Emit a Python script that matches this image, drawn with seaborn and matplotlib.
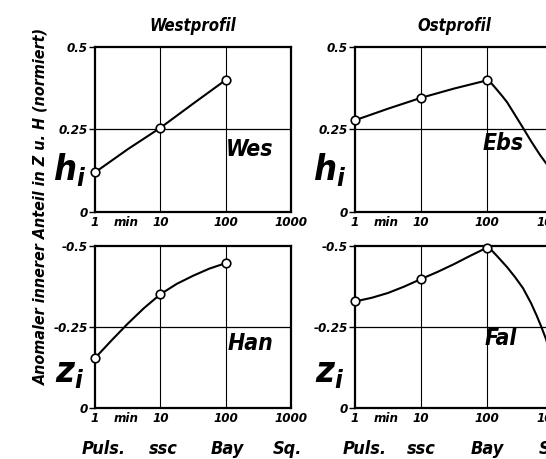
import matplotlib
matplotlib.use("Agg")
import matplotlib.pyplot as plt
import matplotlib.transforms as mtransforms
import pandas as pd
import seaborn as sns

sns.set_theme(style="white")
FONT = ["DejaVu Sans"]
plt.rcParams["font.family"] = FONT
plt.rcParams["font.stretch"] = "condensed"
plt.rcParams["font.style"] = "italic"
plt.rcParams["font.weight"] = "bold"
plt.rcParams["text.color"] = "black"
plt.rcParams["xtick.color"] = "black"
plt.rcParams["ytick.color"] = "black"
plt.rcParams["mathtext.fontset"] = "custom"
plt.rcParams["mathtext.it"] = "DejaVu Sans:italic:bold"
plt.rcParams["mathtext.rm"] = "DejaVu Sans:italic:bold"

# Periods (minutes) of the measured variation types
periods = [1, 10, 100]
period_ticks = [1, 10, 100, 1000]
period_labels = ["1", "10", "100", "1000"]
variation_types = ["Puls.", "ssc", "Bay", "Sq."]

# Normalised internal anomalous part at each station
wes_h = [0.12, 0.255, 0.40]
ebs_h = [0.278, 0.346, 0.399]
han_z = [-0.154, -0.351, -0.447]
fal_z = [-0.329, -0.398, -0.495]

# Traced smooth curves through the stations' points
wes_h_t = [1, 3.16, 10, 31.6, 100]
wes_h_c = [0.12, 0.19, 0.255, 0.328, 0.40]
ebs_h_t = [1, 3.16, 10, 31.6, 100, 119, 142, 169, 201, 266, 351, 464,
           635, 783, 966]
ebs_h_c = [0.278, 0.313, 0.346, 0.374, 0.399, 0.388, 0.370, 0.352, 0.333,
           0.294, 0.255, 0.215, 0.173, 0.148, 0.125]
han_z_t = [1, 1.78, 3.16, 5.6, 10, 17.8, 31.6, 56, 100]
han_z_c = [-0.154, -0.208, -0.26, -0.308, -0.351, -0.383, -0.408, -0.43,
           -0.447]
fal_z_t = [1, 1.78, 3.16, 5.6, 10, 17.8, 31.6, 56, 100, 111, 142, 201,
           266, 351, 464, 569, 658, 783, 966]
fal_z_c = [-0.329, -0.34, -0.355, -0.375, -0.398, -0.42, -0.444, -0.47,
           -0.495, -0.492, -0.469, -0.435, -0.404, -0.37, -0.324, -0.284,
           -0.253, -0.213, -0.15]

panels = [
    # (station, component, points, curve_t, curve, row, col)
    ("Wes", "h", wes_h, wes_h_t, wes_h_c, 0, 0),
    ("Ebs", "h", ebs_h, ebs_h_t, ebs_h_c, 0, 1),
    ("Han", "z", han_z, han_z_t, han_z_c, 1, 0),
    ("Fal", "z", fal_z, fal_z_t, fal_z_c, 1, 1),
]

W, H = 546, 459
fig = plt.figure(figsize=(W / 100, H / 100), dpi=100)

col_x = [(95, 196), (355, 198)]
row_y = [(47, 165), (246, 162)]

# horizontal shift (px) of the variation-type captions relative to their tick
type_shift = [[9, 3, 2, -4], [10, 0, 0, 0]]


def add_axes(r, c):
    x0, w = col_x[c]
    y0, h = row_y[r]
    return fig.add_axes([x0 / W, 1 - (y0 + h) / H, w / W, h / H])


label_pos = {
    "Wes": (226, 0.19),
    "Ebs": (483, 0.209),
    "Han": (228, -0.20),
    "Fal": (485, -0.213),
}

for name, comp, pts, ct, cv, r, c in panels:
    ax = add_axes(r, c)
    ax.set_xscale("log")
    ax.set_xlim(1, 1000)
    if comp == "h":
        ax.set_ylim(0, 0.5)
        yt = [0, 0.25, 0.5]
        ytl = ["0", "0.25", "0.5"]
        grid_y = 0.25
    else:
        ax.set_ylim(0, -0.5)
        yt = [0, -0.25, -0.5]
        ytl = ["0", "-0.25", "-0.5"]
        grid_y = -0.25

    # reference grid
    for gx in (10, 100):
        ax.axvline(gx, color="black", lw=0.8, zorder=1)
    ax.axhline(grid_y, color="black", lw=0.9, zorder=1)

    curve = pd.DataFrame({"T": ct, "v": cv})
    sns.lineplot(data=curve, x="T", y="v", ax=ax, color="black", lw=1.5,
                 estimator=None, sort=False, zorder=3)
    meas = pd.DataFrame({"T": periods, "v": pts})
    sns.scatterplot(data=meas, x="T", y="v", ax=ax, marker="o", s=38,
                    facecolor="white", edgecolor="black", linewidth=1.2,
                    zorder=4, clip_on=False)
    ax.set_xlabel("")
    ax.set_ylabel("")

    for sp in ax.spines.values():
        sp.set_visible(True)
        sp.set_color("black")
        sp.set_linewidth(1.6)

    ax.set_xticks(period_ticks)
    ax.set_xticklabels(period_labels)
    ax.minorticks_off()
    ax.set_yticks(yt)
    ax.set_yticklabels(ytl)
    ax.tick_params(axis="x", length=0, pad=3, labelsize=9.5)
    ax.tick_params(axis="y", length=4, width=1, pad=1, labelsize=9.5,
                   direction="out", left=True)
    for lab in ax.get_xticklabels() + ax.get_yticklabels():
        lab.set_fontstyle("italic")
        lab.set_fontweight("bold")
        lab.set_fontstretch("condensed")

    blend = mtransforms.blended_transform_factory(ax.transData, ax.transAxes)
    ax.text(3.0, -0.065, "min", transform=blend, ha="center", va="center",
            fontsize=9.5)
    if r == 1:
        for t, lab, dx in zip(period_ticks, variation_types, type_shift[c]):
            off = mtransforms.offset_copy(blend, fig=fig, x=dx, y=0,
                                          units="dots")
            ax.text(t, -0.253, lab, transform=off, ha="center",
                    va="center", fontsize=13)

    # station name
    px, py = label_pos[name]
    x0, w = col_x[c]
    name_tr = mtransforms.blended_transform_factory(ax.transAxes, ax.transData)
    ax.text((px - x0) / w, py, name, transform=name_tr, ha="left",
            va="center", fontsize=16.5)

    # component symbol
    sym = r"$h_i$" if comp == "h" else r"$z_i$"
    sy = 0.255 if comp == "h" else 0.216
    ax.text(-0.128, sy, sym, transform=ax.transAxes, ha="center",
            va="center", fontsize=26)

    if r == 0:
        ax.text(0.5, 1.13, "Westprofil" if c == 0 else "Ostprofil",
                transform=ax.transAxes, ha="center", va="center",
                fontsize=12)

fig.text(41 / W, 1 - 206 / H, "Anomaler innerer Anteil in Z u. H (normiert)",
         rotation=90, ha="center", va="center", fontsize=11.5)

fig.savefig("out.png", dpi=100, facecolor="white")
